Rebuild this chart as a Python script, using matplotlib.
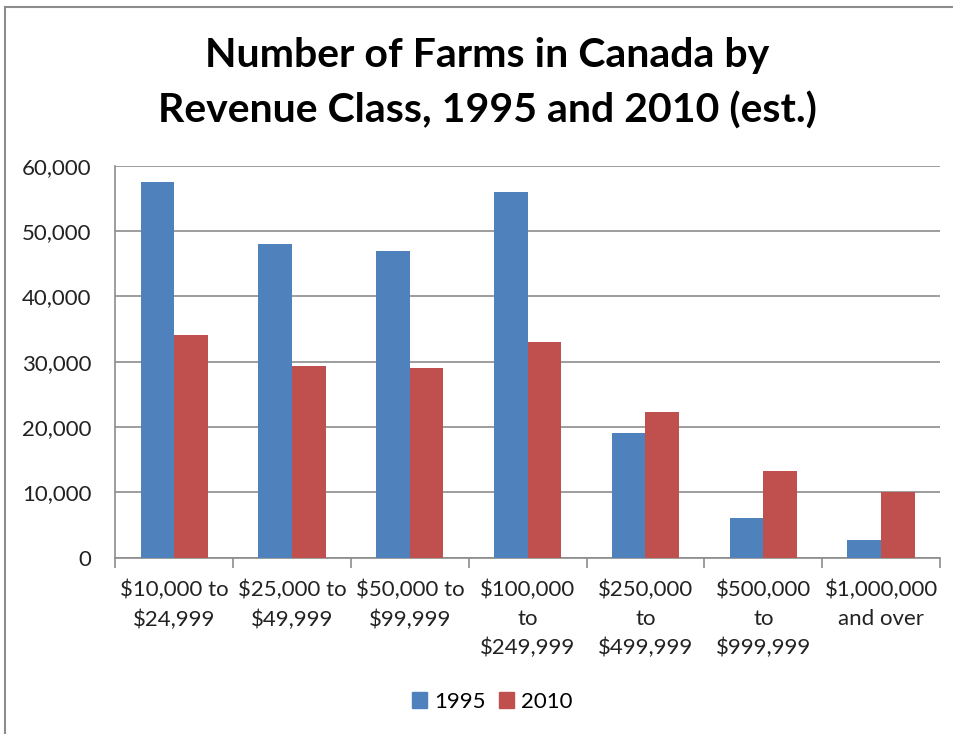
import matplotlib
matplotlib.use("Agg")
import matplotlib.pyplot as plt
from matplotlib.lines import Line2D
from matplotlib.patches import Patch
from matplotlib.ticker import FuncFormatter
import numpy as np

CATEGORIES = [
    "$10,000 to\n$24,999",
    "$25,000 to\n$49,999",
    "$50,000 to\n$99,999",
    "$100,000\nto\n$249,999",
    "$250,000\nto\n$499,999",
    "$500,000\nto\n$999,999",
    "$1,000,000\nand over",
]
FARMS_1995 = [57500, 48000, 47000, 56000, 19000, 6000, 2700]
FARMS_2010 = [34100, 29300, 29000, 33000, 22250, 13300, 10000]
SERIES_NAMES = ["1995", "2010"]

BLUE = "#4F81BD"
RED = "#C0504D"
GRID = "#8C8C8C"

plt.rcParams["font.family"] = ["Lato", "DejaVu Sans"]

fig = plt.figure(figsize=(9.54, 7.34), dpi=100)

# chart-area frame (left and top edges)
fig.add_artist(Line2D([4.7 / 954, 4.7 / 954], [0, 1 - 6.7 / 734],
                      transform=fig.transFigure, color=GRID, lw=1.5))
fig.add_artist(Line2D([4.7 / 954, 1], [1 - 6.7 / 734, 1 - 6.7 / 734],
                      transform=fig.transFigure, color=GRID, lw=1.5))

fig.text(487 / 954, 1 - 56 / 734, "Number of Farms in Canada by",
         ha="center", va="center", fontsize=29.5, fontweight="bold")
fig.text(487 / 954, 1 - 111 / 734, "Revenue Class, 1995 and 2010 (est.)",
         ha="center", va="center", fontsize=29.5, fontweight="bold")

ax = fig.add_axes([115.3 / 954, 1 - 557.6 / 734, (940 - 115.3) / 954, (557.6 - 165.7) / 734])

x = np.arange(len(CATEGORIES))
w = 1 / 3.5
ax.bar(x - w / 2, FARMS_1995, width=w, color=BLUE, zorder=3)
ax.bar(x + w / 2, FARMS_2010, width=w, color=RED, zorder=3)

ax.set_xlim(-0.5, len(CATEGORIES) - 0.5)
ax.set_ylim(0, 60000)
ax.set_yticks(np.arange(0, 60001, 10000))
ax.yaxis.set_major_formatter(FuncFormatter(lambda v, _: f"{int(v):,}"))
ax.yaxis.grid(True, color=GRID, lw=1.2, zorder=0)
ax.tick_params(axis="y", length=0, pad=17, labelsize=16, colors="#222222")

# category boundaries get tick marks, labels sit at the centres
ax.set_xticks(np.arange(-0.5, len(CATEGORIES)), labels=[""] * (len(CATEGORIES) + 1))
ax.tick_params(axis="x", which="major", length=7, width=1.2, color=GRID, direction="out")
ax.set_xticks(x, labels=CATEGORIES, minor=True)
ax.tick_params(axis="x", which="minor", length=0, pad=16, labelsize=16, colors="#222222")
for lbl in ax.get_xticklabels(minor=True):
    lbl.set_linespacing(1.55)

for side in ["top", "right"]:
    ax.spines[side].set_visible(False)
for side in ["left", "bottom"]:
    ax.spines[side].set_color(GRID)
    ax.spines[side].set_linewidth(1.2)

handles = [Patch(color=BLUE), Patch(color=RED)]
fig.legend(handles, SERIES_NAMES, loc="center", bbox_to_anchor=(492 / 954, 1 - 702 / 734),
           ncol=2, frameon=False, fontsize=16, handlelength=0.7, handleheight=0.7,
           handletextpad=0.3, columnspacing=0.6)

fig.savefig("out.png", dpi=100)
